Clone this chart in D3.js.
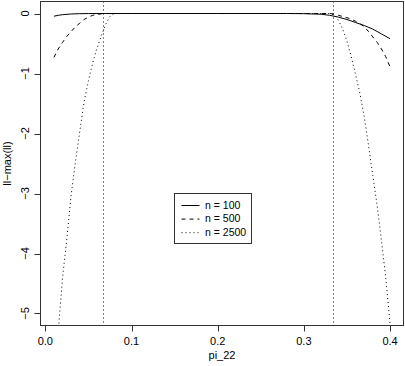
<!DOCTYPE html>
<html><head><meta charset="utf-8">
<script src="https://cdn.jsdelivr.net/npm/d3@7"></script>
<style>body{margin:0;background:#fff}svg{display:block}text{font-family:"Liberation Sans",Arial,sans-serif;fill:#000}</style>
</head><body>
<script>
// Data
const x100 = [0.01,0.015,0.02,0.03,0.04,0.05,0.07,0.1,0.2,0.28,0.30,0.32,0.33,0.34,0.35,0.36,0.37,0.38,0.39,0.40];
const y100 = [-0.045,-0.03,-0.02,-0.008,-0.003,-0.001,0,0,0,0,-0.003,-0.012,-0.03,-0.06,-0.10,-0.15,-0.20,-0.26,-0.34,-0.42];
const x500 = [0.01,0.015,0.02,0.025,0.03,0.035,0.04,0.045,0.05,0.055,0.06,0.065,0.07,0.1,0.2,0.3,0.33,0.335,0.34,0.345,0.35,0.355,0.36,0.365,0.37,0.375,0.38,0.385,0.39,0.395,0.40];
const y500 = [-0.73,-0.59,-0.48,-0.38,-0.30,-0.22,-0.16,-0.10,-0.06,-0.03,-0.015,-0.005,0,0,0,0,0,-0.01,-0.03,-0.05,-0.07,-0.095,-0.13,-0.17,-0.22,-0.30,-0.39,-0.48,-0.59,-0.72,-0.89];
const x2500 = [0.015,0.02,0.025,0.03,0.035,0.04,0.045,0.05,0.055,0.06,0.065,0.07,0.075,0.08,0.1,0.2,0.3,0.33,0.335,0.34,0.345,0.35,0.355,0.36,0.365,0.37,0.375,0.38,0.385,0.39,0.395,0.40];
const y2500 = [-5.3,-4.4,-3.75,-3.02,-2.47,-1.96,-1.47,-1.12,-0.82,-0.58,-0.37,-0.18,-0.05,0,0,0,0,0,-0.02,-0.11,-0.26,-0.46,-0.72,-1.02,-1.33,-1.72,-2.2,-2.7,-3.2,-3.78,-4.4,-5.17];
const vlines = [1/15, 1/3];
const xTicks = [0.0,0.1,0.2,0.3,0.4];
const xTickLabels = ["0.0","0.1","0.2","0.3","0.4"];
const yTicks = [0,-1,-2,-3,-4,-5];
const yTickLabels = ["0","\u22121","\u22122","\u22123","\u22124","\u22125"];
const seriesNames = ["n = 100","n = 500","n = 2500"];
const dashes = [null,"4,4","1,3"];

const W=405,H=366;
const L=40.5,R=403.5,T=1.5,B=325.5;
const x = d3.scaleLinear().domain([-0.0056,0.4156]).range([L,R]);
const y = d3.scaleLinear().domain([-5.2,0.2]).range([B,T]);

const svg = d3.select("body").append("svg").attr("width",W).attr("height",H);
svg.append("defs").append("clipPath").attr("id","clip")
  .append("rect").attr("x",L).attr("y",T).attr("width",R-L).attr("height",B-T);

const g = svg.append("g").attr("clip-path","url(#clip)");
const line = d3.line().x(d=>x(d[0])).y(d=>y(d[1]));
const series = [[x100,y100],[x500,y500],[x2500,y2500]];
series.forEach((s,i)=>{
  g.append("path").datum(s[0].map((v,j)=>[v,s[1][j]]))
   .attr("d",line).attr("fill","none").attr("stroke","#000").attr("stroke-width",1)
   .attr("stroke-dasharray",dashes[i]);
});
vlines.forEach(v=>{
  g.append("line").attr("x1",Math.round(x(v))+0.5).attr("x2",Math.round(x(v))+0.5)
   .attr("y1",T).attr("y2",B).attr("stroke","#000").attr("stroke-dasharray","1,3");
});

// box
svg.append("rect").attr("x",L).attr("y",T).attr("width",R-L).attr("height",B-T)
  .attr("fill","none").attr("stroke","#333");

// x axis
const xa = svg.append("g");
xa.append("line").attr("x1",x(0)).attr("x2",x(0.4)).attr("y1",B).attr("y2",B).attr("stroke","#333");
xTicks.forEach((t,i)=>{
  const px = Math.round(x(t))+0.5;
  xa.append("line").attr("x1",px).attr("x2",px).attr("y1",B).attr("y2",B+6).attr("stroke","#333");
  xa.append("text").attr("x",x(t)).attr("y",345).attr("text-anchor","middle")
    .attr("font-size",11).text(xTickLabels[i]);
});
// y axis
const ya = svg.append("g");
ya.append("line").attr("x1",L).attr("x2",L).attr("y1",y(0)).attr("y2",y(-5)).attr("stroke","#333");
yTicks.forEach((t,i)=>{
  const py = Math.round(y(t))+0.5;
  ya.append("line").attr("x1",L-6).attr("x2",L).attr("y1",py).attr("y2",py).attr("stroke","#333");
  ya.append("text").attr("transform",`translate(29,${y(t)}) rotate(-90)`)
    .attr("text-anchor","middle").attr("font-size",11).text(yTickLabels[i]);
});
svg.append("text").attr("x",(L+R)/2).attr("y",359).attr("text-anchor","middle")
  .attr("font-size",11).text("pi_22");
svg.append("text").attr("transform",`translate(11,${(T+B)/2}) rotate(-90)`)
  .attr("text-anchor","middle").attr("font-size",11).text("ll\u2212max(ll)");

// legend
const lg = svg.append("g");
lg.append("rect").attr("x",174.5).attr("y",193.5).attr("width",77).attr("height",50)
  .attr("fill","#fff").attr("stroke","#333");
const rows=[205,218.6,232.2];
seriesNames.forEach((n,i)=>{
  lg.append("line").attr("x1",181.5).attr("x2",199.5).attr("y1",rows[i]+0.5).attr("y2",rows[i]+0.5)
    .attr("stroke","#000").attr("stroke-dasharray",dashes[i]);
  lg.append("text").attr("x",205).attr("y",rows[i]+3.8).attr("font-size",10.5).text(n);
});
</script>
</body></html>
